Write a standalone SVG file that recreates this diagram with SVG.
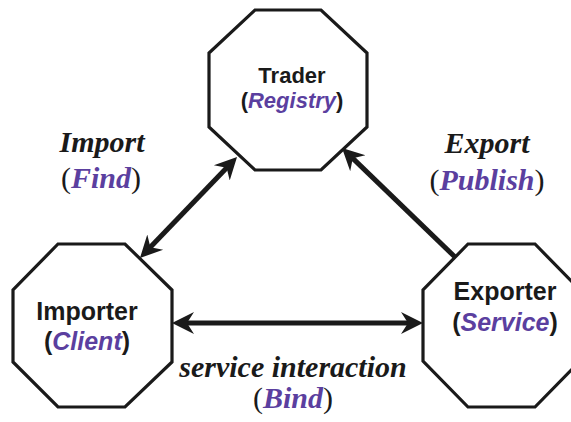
<svg xmlns="http://www.w3.org/2000/svg" width="571" height="422" viewBox="0 0 571 422">
  <style>
    .oct { fill: #ffffff; stroke: #1a1a1a; stroke-width: 3.2; stroke-linejoin: miter; }
    .name { font-family: "Liberation Sans", Arial, sans-serif; font-weight: bold; fill: #1a1a1a; text-anchor: middle; }
    .role { font-style: italic; fill: #5b3f9f; }
    .lbl { font-family: "Liberation Serif", "Times New Roman", serif; font-weight: bold; font-style: italic; font-size: 30px; fill: #1a1a1a; text-anchor: middle; }
    .par { font-style: normal; font-weight: normal; fill: #1a1a1a; }
    .conn { stroke: #1a1a1a; stroke-width: 5; fill: none; }
  </style>
  <defs>
    <marker id="arrow" markerUnits="userSpaceOnUse" viewBox="0 -12 24 24" refX="12" refY="0" markerWidth="24" markerHeight="24" orient="auto-start-reverse">
      <path d="M0,-11 L22,0 L0,11 L7,0 Z" fill="#1a1a1a"/>
    </marker>
  </defs>
  <rect width="571" height="422" fill="#ffffff"/>

  <g id="connectors">
    <line class="conn" x1="146.9" y1="250.8" x2="230.1" y2="164.2" marker-start="url(#arrow)" marker-end="url(#arrow)"/>
    <line class="conn" x1="455" y1="257" x2="349.2" y2="154.9" marker-end="url(#arrow)"/>
    <line class="conn" x1="182" y1="323" x2="413" y2="323" marker-start="url(#arrow)" marker-end="url(#arrow)"/>
  </g>

  <g id="trader">
    <polygon class="oct" points="255,10 321,10 367,53 367,127 321,170 255,170 209,127 209,53"/>
    <text class="name" x="292" y="83" font-size="22">Trader</text>
    <text class="name" x="292" y="108" font-size="22">(<tspan class="role">Registry</tspan>)</text>
  </g>

  <g id="importer">
    <polygon class="oct" points="58,244 125,244 172,290 172,362 125,407 58,407 13,362 13,290"/>
    <text class="name" x="87" y="320" font-size="25">Importer</text>
    <text class="name" x="87" y="350" font-size="25">(<tspan class="role">Client</tspan>)</text>
  </g>

  <g id="exporter">
    <polygon class="oct" points="468,244 535,244 580,290 580,361 535,407 468,407 423,361 423,290"/>
    <text class="name" x="505" y="300" font-size="25">Exporter</text>
    <text class="name" x="505" y="331" font-size="25">(<tspan class="role">Service</tspan>)</text>
  </g>

  <g id="labels">
    <text class="lbl" x="102" y="152">Import</text>
    <text class="lbl" x="101" y="188"><tspan class="par">(</tspan><tspan fill="#5b3f9f">Find</tspan><tspan class="par">)</tspan></text>
    <text class="lbl" x="487" y="153">Export</text>
    <text class="lbl" x="487" y="190"><tspan class="par">(</tspan><tspan fill="#5b3f9f">Publish</tspan><tspan class="par">)</tspan></text>
    <text class="lbl" x="293" y="377">service interaction</text>
    <text class="lbl" x="293" y="408"><tspan class="par">(</tspan><tspan fill="#5b3f9f">Bind</tspan><tspan class="par">)</tspan></text>
  </g>
</svg>
